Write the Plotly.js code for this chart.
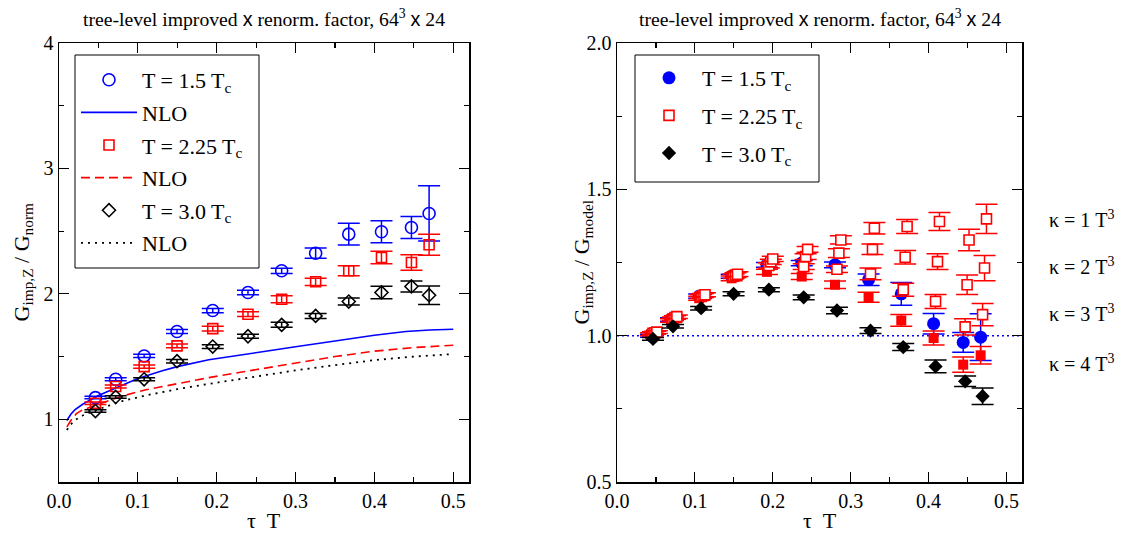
<!DOCTYPE html>
<html><head><meta charset="utf-8">
<script src="https://cdn.plot.ly/plotly-3.0.1.min.js"></script>
<style>
body{margin:0;background:#fff}#c{width:1128px;height:536px}
#c .xtick text, #c .ytick text, #c .x2tick text, #c .y2tick text { font-family: 'Liberation Serif', 'Times New Roman', serif !important; }
</style>
</head><body><div id="c"></div>
<script>
// tau*T positions of the lattice points
const tauT = [0.0462, 0.0719, 0.108, 0.1497, 0.195, 0.2397, 0.2824, 0.3255, 0.3675, 0.409, 0.447, 0.4694];

// Left panel: G_imp,Z / G_norm
const L15 = [1.173, 1.319, 1.505, 1.70, 1.867, 2.011, 2.184, 2.324, 2.476, 2.495, 2.529, 2.641];
const L15e = [0.01, 0.012, 0.013, 0.016, 0.017, 0.018, 0.021, 0.041, 0.087, 0.087, 0.087, 0.22];
const L225 = [1.128, 1.261, 1.42, 1.585, 1.723, 1.838, 1.957, 2.096, 2.184, 2.29, 2.25, 2.391];
const L225e = [0.01, 0.012, 0.013, 0.015, 0.019, 0.019, 0.027, 0.029, 0.04, 0.05, 0.062, 0.084];
const L30 = [1.066, 1.178, 1.319, 1.463, 1.58, 1.662, 1.753, 1.824, 1.939, 2.011, 2.059, 1.989];
const L30e = [0.01, 0.01, 0.012, 0.014, 0.015, 0.016, 0.02, 0.02, 0.027, 0.05, 0.044, 0.073];

// NLO curves
const nloX15 = [0.01,0.015,0.02,0.03,0.05,0.07,0.1,0.13,0.15,0.19,0.23,0.26,0.3,0.35,0.4,0.44,0.47,0.5];
const nlo15  = [0.99,1.04,1.075,1.12,1.19,1.245,1.325,1.385,1.42,1.475,1.51,1.54,1.578,1.625,1.67,1.70,1.712,1.718];
const nloX = [0.01,0.015,0.022,0.03,0.05,0.08,0.11,0.15,0.19,0.23,0.26,0.3,0.35,0.4,0.45,0.5];
const nlo225 = [0.94,0.99,1.045,1.075,1.12,1.185,1.235,1.285,1.332,1.375,1.405,1.45,1.5,1.543,1.572,1.59];
const nlo30  = [0.915,0.96,1.0,1.03,1.08,1.145,1.19,1.24,1.282,1.322,1.35,1.39,1.432,1.472,1.5,1.52];

// Right panel: G_imp,Z / G_model
const R15 = [1.0, 1.055, 1.135, 1.203, 1.242, 1.248, 1.242, 1.191, 1.143, 1.041, 0.977, 0.995];
const R15e = [0.005, 0.006, 0.007, 0.007, 0.008, 0.009, 0.01, 0.02, 0.039, 0.035, 0.034, 0.08];
const Rk1 = [1.012, 1.065, 1.14, 1.21, 1.262, 1.295, 1.327, 1.367, 1.373, 1.39, 1.327, 1.399];
const Rk1e = [0.005, 0.006, 0.007, 0.008, 0.009, 0.01, 0.014, 0.02, 0.024, 0.031, 0.037, 0.05];
const Rk2 = [1.01, 1.062, 1.137, 1.207, 1.252, 1.27, 1.282, 1.295, 1.268, 1.253, 1.174, 1.231];
const Rk2e = [0.005, 0.006, 0.007, 0.008, 0.009, 0.01, 0.015, 0.018, 0.023, 0.027, 0.033, 0.043];
const Rk3 = [1.008, 1.058, 1.134, 1.203, 1.24, 1.236, 1.227, 1.211, 1.157, 1.117, 1.03, 1.072];
const Rk3e = [0.005, 0.006, 0.007, 0.008, 0.009, 0.01, 0.011, 0.02, 0.022, 0.024, 0.028, 0.038];
const Rk4 = [1.005, 1.052, 1.128, 1.196, 1.218, 1.202, 1.174, 1.131, 1.052, 0.992, 0.901, 0.933];
const Rk4e = [0.005, 0.006, 0.007, 0.008, 0.009, 0.01, 0.013, 0.017, 0.02, 0.024, 0.026, 0.03];
const R30 = [0.989, 1.032, 1.094, 1.143, 1.157, 1.131, 1.086, 1.017, 0.961, 0.895, 0.844, 0.793];
const R30e = [0.005, 0.006, 0.006, 0.007, 0.007, 0.008, 0.011, 0.01, 0.012, 0.022, 0.018, 0.028];

const kappaLabels = ['κ = 1 T<sup>3</sup>', 'κ = 2 T<sup>3</sup>', 'κ = 3 T<sup>3</sup>', 'κ = 4 T<sup>3</sup>'];
const kappaLabelY = [1.40, 1.238, 1.078, 0.907];

const BLUE = '#0000ff', RED = '#ff0000', BLK = '#000000';
const FONT = "Liberation Serif";
const SANS = "Liberation Sans";
const shift = (arr, d) => arr.map(v => v + d);

function err(a, c) { return {type:'data', array:a, visible:true, color:c, thickness:1.5, width:11}; }

const traces = [
  {x:tauT, y:L15, error_y:err(L15e,BLUE), mode:'markers', name:'T = 1.5 T<sub>c</sub>', legend:'legend', legendgroup:'a1',
   marker:{symbol:'circle-open', size:12, color:BLUE, line:{width:1.6, color:BLUE}}, xaxis:'x', yaxis:'y'},
  {x:nloX15, y:nlo15, mode:'lines', name:'NLO', legend:'legend', legendgroup:'a2', line:{color:BLUE, width:1.6}, xaxis:'x', yaxis:'y'},
  {x:tauT, y:L225, error_y:err(L225e,RED), mode:'markers', name:'T = 2.25 T<sub>c</sub>', legend:'legend', legendgroup:'a3',
   marker:{symbol:'square-open', size:10, color:RED, line:{width:1.6, color:RED}}, xaxis:'x', yaxis:'y'},
  {x:nloX, y:nlo225, mode:'lines', name:'NLO', legend:'legend', legendgroup:'a4', line:{color:RED, width:1.6, dash:'9px,5px'}, xaxis:'x', yaxis:'y'},
  {x:tauT, y:L30, error_y:err(L30e,BLK), mode:'markers', name:'T = 3.0 T<sub>c</sub>', legend:'legend', legendgroup:'a5',
   marker:{symbol:'diamond-open', size:10, color:BLK, line:{width:1.6, color:BLK}}, xaxis:'x', yaxis:'y'},
  {x:nloX, y:nlo30, mode:'lines', name:'NLO', legend:'legend', legendgroup:'a6', line:{color:BLK, width:1.8, dash:'2px,5px'}, xaxis:'x', yaxis:'y'},

  {x:shift(tauT,-0.0025), y:R15, error_y:err(R15e,BLUE), mode:'markers', name:'T = 1.5 T<sub>c</sub>', legend:'legend2', legendgroup:'b1',
   marker:{symbol:'circle', size:13, color:BLUE}, xaxis:'x2', yaxis:'y2'},
  {x:shift(tauT,-0.0025), y:Rk4, error_y:err(Rk4e,RED), mode:'markers', name:'k4', showlegend:false,
   marker:{symbol:'square', size:10, color:RED}, xaxis:'x2', yaxis:'y2'},
  {x:tauT, y:Rk3, error_y:err(Rk3e,RED), mode:'markers', name:'k3', showlegend:false,
   marker:{symbol:'square', size:10, color:'#ffffff', line:{width:1.6, color:RED}}, xaxis:'x2', yaxis:'y2'},
  {x:shift(tauT,0.0025), y:Rk2, error_y:err(Rk2e,RED), mode:'markers', name:'k2', showlegend:false,
   marker:{symbol:'square', size:10, color:'#ffffff', line:{width:1.6, color:RED}}, xaxis:'x2', yaxis:'y2'},
  {x:shift(tauT,0.005), y:Rk1, error_y:err(Rk1e,RED), mode:'markers', name:'T = 2.25 T<sub>c</sub>', legend:'legend2', legendgroup:'b2',
   marker:{symbol:'square', size:10, color:'#ffffff', line:{width:1.6, color:RED}}, xaxis:'x2', yaxis:'y2'},
  {x:tauT, y:R30, error_y:err(R30e,BLK), mode:'markers', name:'T = 3.0 T<sub>c</sub>', legend:'legend2', legendgroup:'b3',
   marker:{symbol:'diamond', size:11, color:BLK}, xaxis:'x2', yaxis:'y2'}
];

const axBase = {showgrid:false, zeroline:false, showline:true, linecolor:'#000', linewidth:1.5, mirror:'allticks',
  ticks:'inside', ticklen:10, tickwidth:1.2, tickcolor:'#000', tickfont:{family:FONT, size:20, color:'#000'}};

const xa = Object.assign({}, axBase, {range:[0,0.52], dtick:0.1, tick0:0, tickformat:'.1f',
  minor:{ticks:'inside', dtick:0.05, ticklen:5, tickwidth:1.2, tickcolor:'#000'}});

const titleText = 'tree-level improved <span style="font-family:' + SANS + '">x</span> renorm. factor, 64<sup>3</sup> <span style="font-family:' + SANS + '">x</span> 24';
const py = p => (482 - p) / 439;
const px = p => p / 1128;
const A = (o) => Object.assign({xref:'paper', yref:'paper', showarrow:false, xanchor:'center', yanchor:'middle'}, o);

const ann = [
  A({text:titleText, x:px(264), y:py(18), font:{family:FONT, size:19.7, color:'#000'}}),
  A({text:titleText, x:px(820), y:py(18), font:{family:FONT, size:19.7, color:'#000'}}),
  A({text:'τ  T', x:px(264), y:py(520), font:{family:FONT, size:22, color:'#000'}}),
  A({text:'τ  T', x:px(820), y:py(520), font:{family:FONT, size:22, color:'#000'}}),
  A({text:'G<sub>imp,Z</sub> / G<sub>norm</sub>', x:px(22), y:0.5, textangle:-90, font:{family:FONT, size:22, color:'#000'}}),
  A({text:'G<sub>imp,Z</sub> / G<sub>model</sub>', x:px(582), y:0.5, textangle:-90, font:{family:FONT, size:22, color:'#000'}})
];
kappaLabels.forEach((t, i) => ann.push(A({text:t, yref:'y2', x:px(1047), y:kappaLabelY[i], xanchor:'left',
  font:{family:FONT, size:20, color:'#000'}})));

const legBase = {bgcolor:'rgba(0,0,0,0)', borderwidth:0, font:{family:FONT, size:22, color:'#000'},
  xanchor:'left', yanchor:'top', itemwidth:56};

const box = (x0, y0, x1, y1) => ({type:'rect', xref:'paper', yref:'paper', x0:px(x0), x1:px(x1), y0:py(y1), y1:py(y0),
  fillcolor:'#fff', line:{color:'#000', width:1}, layer:'above'});

const layout = {
  width:1128, height:536, margin:{l:0, r:0, t:43, b:54}, paper_bgcolor:'#fff', plot_bgcolor:'#fff',
  font:{family:FONT, size:20, color:'#000'},
  showlegend:true,
  xaxis:Object.assign({}, xa, {domain:[px(59), px(469)], anchor:'y'}),
  yaxis:Object.assign({}, axBase, {range:[0.5,4], dtick:1, tick0:0, anchor:'x',
    minor:{ticks:'inside', dtick:0.5, ticklen:5, tickwidth:1.2, tickcolor:'#000'}}),
  xaxis2:Object.assign({}, xa, {domain:[px(617), px(1022)], anchor:'y2'}),
  yaxis2:Object.assign({}, axBase, {range:[0.5,2], dtick:0.5, tick0:0, tickformat:'.1f', anchor:'x2',
    minor:{ticks:'inside', dtick:0.25, ticklen:5, tickwidth:1.2, tickcolor:'#000'}}),
  legend:Object.assign({}, legBase, {x:px(76), y:py(59), tracegroupgap:1}),
  legend2:Object.assign({}, legBase, {x:px(636), y:py(57), tracegroupgap:6}),
  annotations:ann,
  shapes:[
    {type:'line', xref:'x2 domain', yref:'y2', x0:0, x1:1, y0:1, y1:1, layer:'below', line:{color:BLUE, width:1.5, dash:'2px,3px'}},
    box(75, 55, 259, 268),
    box(635, 55, 819, 182)
  ]
};

Plotly.newPlot('c', traces, layout, {staticPlot:true});
</script></body></html>
